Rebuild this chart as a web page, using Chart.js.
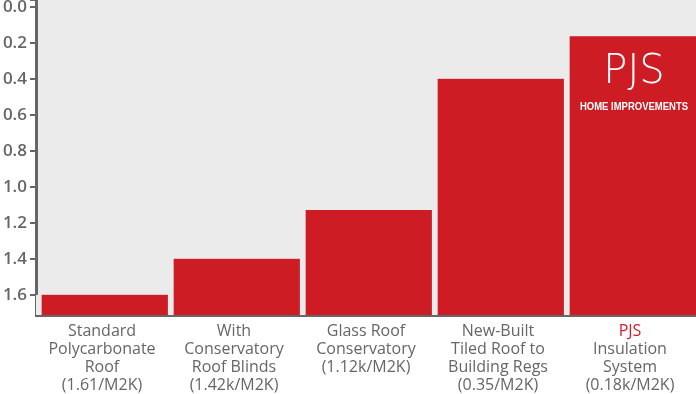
<!DOCTYPE html>
<html>
<head>
<meta charset="utf-8">
<script src="https://cdn.jsdelivr.net/npm/chart.js@4.4.1/dist/chart.umd.min.js"></script>
<style>
    html, body { margin: 0; padding: 0; background: #ffffff; }
    #wrap { width: 696px; height: 394px; }
</style>
</head>
<body>
<div id="wrap"><canvas id="chart-u-value"></canvas></div>
<script>
"use strict";

// roof types, multi-line axis labels
const categories = [
    ['Standard', 'Polycarbonate', 'Roof', '(1.61/M2K)'],
    ['With', 'Conservatory', 'Roof Blinds', '(1.42k/M2K)'],
    ['Glass Roof', 'Conservatory', '(1.12k/M2K)'],
    ['New-Built', 'Tiled Roof to', 'Building Regs', '(0.35/M2K)'],
    ['PJS', 'Insulation', 'System', '(0.18k/M2K)']
];
const highlightWord = 'PJS';

// bar tops as drawn on the (reversed) axis
const uValues = [1.6, 1.4, 1.13, 0.4, 0.165];

const yTicks = [0.0, 0.2, 0.4, 0.6, 0.8, 1.0, 1.2, 1.4, 1.6];
const yMin = -0.037;
const yMax = 1.713;

const grey = '#666666';
const red = '#cd1c24';
const areaBg = '#ebebeb';
const labelPadding = 7;
const labelLineHeight = 18;
const labelSize = 16;

const areaBackground = {
    id: 'areaBackground',
    beforeDraw(chart) {
        const a = chart.chartArea;
        const ctx = chart.ctx;
        ctx.save();
        ctx.fillStyle = areaBg;
        ctx.fillRect(a.left, a.top, a.right - a.left, a.bottom - a.top);
        ctx.restore();
    }
};

// first line of the PJS label is red, and the logo sits on its bar
const pjsExtras = {
    id: 'pjsExtras',
    afterDraw(chart) {
        const ctx = chart.ctx;
        const xScale = chart.scales.x;
        const idx = categories.findIndex(c => c[0] === highlightWord);
        const x = xScale.getPixelForTick(idx);
        const y = xScale.top + labelPadding + labelLineHeight / 2;
        ctx.save();
        ctx.font = labelSize + 'px "Open Sans"';
        ctx.fillStyle = '#d2202a';
        ctx.textAlign = 'center';
        ctx.textBaseline = 'middle';
        ctx.fillText(highlightWord, x, y);

        const bar = chart.getDatasetMeta(0).data[idx];
        const cx = bar.x + 4;
        const top = bar.y;
        ctx.fillStyle = '#ffffff';
        ctx.font = '200 40px "DejaVu Sans"';
        ctx.fillText(highlightWord, cx, top + 36);

        ctx.font = 'bold 11px "Liberation Sans Narrow", "Liberation Sans"';
        const txt = 'HOME IMPROVEMENTS';
        const w = ctx.measureText(txt).width;
        ctx.translate(cx, top + 71);
        ctx.scale(108 / w, 1);
        ctx.fillText(txt, 0, 0);
        ctx.restore();
    }
};

new Chart(document.getElementById('chart-u-value').getContext('2d'), {
    type: 'bar',
    data: {
        labels: categories,
        datasets: [{
            data: uValues,
            base: yMax,
            backgroundColor: red,
            borderColor: areaBg,
            borderWidth: { left: 6, right: 0, top: 0, bottom: 0 },
            categoryPercentage: 1,
            barPercentage: 1
        }]
    },
    options: {
        responsive: true,
        maintainAspectRatio: false,
        animation: false,
        layout: { padding: 0, autoPadding: false },
        plugins: {
            legend: { display: false },
            tooltip: { enabled: false }
        },
        scales: {
            x: {
                z: 1,
                grid: { display: false, drawTicks: false },
                border: { display: true, color: grey, width: 3 },
                ticks: {
                    color: grey,
                    padding: labelPadding,
                    maxRotation: 0,
                    autoSkip: false,
                    font: { family: '"Open Sans"', size: labelSize, lineHeight: labelLineHeight / labelSize },
                    callback: function (value) {
                        return categories[value].map(l => l === highlightWord ? '' : l);
                    }
                },
                afterFit(scale) {
                    scale.height = 79;
                    scale.paddingLeft = 0;
                    scale.paddingRight = 0;
                }
            },
            y: {
                z: 1,
                reverse: true,
                min: yMin,
                max: yMax,
                grid: {
                    drawOnChartArea: false,
                    drawTicks: true,
                    tickLength: 6,
                    color: grey,
                    lineWidth: 2
                },
                border: { display: true, color: grey, width: 3 },
                ticks: {
                    color: grey,
                    padding: 3,
                    autoSkip: false,
                    font: { family: '"Open Sans"', size: 17, weight: '600' },
                    callback: v => v >= 0 ? v.toFixed(1) : ''
                },
                afterBuildTicks(scale) {
                    scale.ticks = [yMin].concat(yTicks).map(v => ({ value: v }));
                },
                afterFit(scale) {
                    scale.width = 36;
                    scale.paddingTop = 0;
                    scale.paddingBottom = 0;
                }
            }
        }
    },
    plugins: [areaBackground, pjsExtras]
});
</script>
</body>
</html>
